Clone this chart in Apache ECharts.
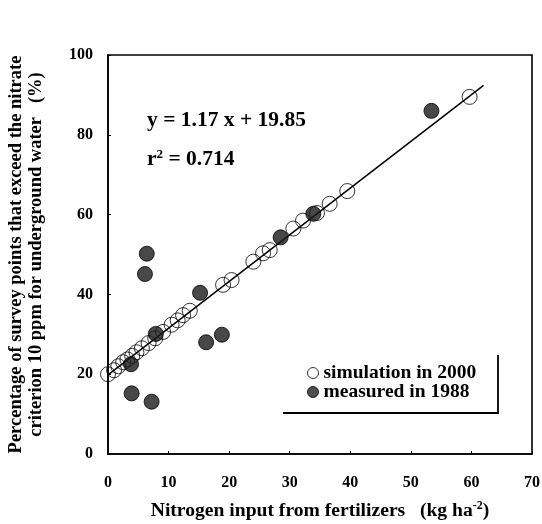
<!DOCTYPE html>
<html>
<head>
<meta charset="utf-8">
<script src="https://cdn.jsdelivr.net/npm/echarts@6/dist/echarts.min.js"></script>
<style>
  html, body { margin: 0; padding: 0; background: #fff; }
  #chart { width: 542px; height: 524px; }
</style>
</head>
<body>
<div id="chart"></div>
<script>
// Nitrogen input (kg ha-2) vs. share of survey points above the 10 ppm nitrate criterion (%)
var simX = [0, 1.0, 1.7, 2.5, 3.2, 4.0, 4.7, 5.6, 6.7, 7.8, 9.1, 10.5, 11.5, 12.4, 13.5, 19.0, 20.4, 24.0, 25.6, 26.7, 30.6, 32.2, 34.5, 36.6, 39.5, 59.7];
var simY = [20, 21.0, 22.0, 23.0, 23.7, 24.6, 25.5, 26.5, 27.8, 29.0, 30.6, 32.4, 33.5, 34.8, 35.9, 42.4, 43.6, 48.2, 50.3, 51.1, 56.5, 58.5, 60.4, 62.7, 65.9, 89.5];

var measX = [53.4, 33.9, 28.5, 15.2, 6.4, 6.1, 7.9, 3.8, 18.8, 16.2, 3.9, 7.2];
var measY = [86.0, 60.2, 54.3, 40.4, 50.2, 45.1, 30.1, 22.5, 29.9, 28.0, 15.2, 13.1];

// Linear fit y = a x + b, drawn over x in [fitStart, fitEnd]
var slope = 1.17;
var intercept = 19.85;
var r2 = 0.714;
var fitStart = 0;
var fitEnd = 62;

var xTicks = [0, 10, 20, 30, 40, 50, 60, 70];
var yTicks = [0, 20, 40, 60, 80, 100];

var serif = '"Liberation Serif", "DejaVu Serif", serif';

function pairs(xs, ys) { return xs.map(function (x, i) { return [x, ys[i]]; }); }
var fitLine = [fitStart, fitEnd].map(function (x) { return [x, slope * x + intercept]; });

var chart = echarts.init(document.getElementById('chart'), null, { renderer: 'canvas' });

var axisText = { color: '#000', fontFamily: serif, fontWeight: 'bold', fontSize: 16 };

chart.setOption({
  animation: false,
  backgroundColor: '#fff',
  grid: {
    left: 108, right: 10, top: 55, bottom: 70,
    containLabel: false, outerBoundsMode: 'none',
    show: true, borderColor: '#000', borderWidth: 1.6, backgroundColor: 'transparent'
  },
  xAxis: {
    type: 'value', min: xTicks[0], max: xTicks[xTicks.length - 1], interval: 10,
    splitLine: { show: false },
    axisLine: { show: true, lineStyle: { color: '#000', width: 1.6 } },
    axisTick: { show: true, inside: true, length: 3, lineStyle: { color: '#000' } },
    axisLabel: Object.assign({ margin: 21 }, axisText),
    name: '{n|Nitrogen input from fertilizers   (kg ha}{s|-2}{n|)}',
    nameLocation: 'middle', nameGap: 46,
    nameTextStyle: {
      rich: {
        n: { fontFamily: serif, fontWeight: 'bold', fontSize: 19.6, color: '#000' },
        s: { fontFamily: serif, fontWeight: 'bold', fontSize: 12, color: '#000', verticalAlign: 'top', padding: [0, 0, 9, 0] }
      }
    }
  },
  yAxis: {
    type: 'value', min: yTicks[0], max: yTicks[yTicks.length - 1], interval: 20,
    splitLine: { show: false },
    axisLine: { show: true, lineStyle: { color: '#000', width: 1.6 } },
    axisTick: { show: true, inside: true, length: 3, lineStyle: { color: '#000' } },
    axisLabel: Object.assign({ margin: 15 }, axisText),
    name: 'Percentage of survey points that exceed the nitrate\ncriterion 10 ppm for underground water   (%)',
    nameLocation: 'middle', nameGap: 62,
    nameTextStyle: { fontFamily: serif, fontWeight: 'bold', fontSize: 18.5, color: '#000', lineHeight: 20 }
  },
  legend: {
    orient: 'vertical', left: 302, top: 358, itemGap: -1,
    itemWidth: 11, itemHeight: 11,
    textStyle: { fontFamily: serif, fontWeight: 'bold', fontSize: 19.5, color: '#000' },
    data: [
      { name: 'simulation in 2000', icon: 'circle', itemStyle: { color: '#fff', borderColor: '#000', borderWidth: 1 } },
      { name: 'measured in 1988', icon: 'circle', itemStyle: { color: '#222', borderColor: '#000', borderWidth: 1 } }
    ]
  },
  graphic: [
    {
      type: 'polyline', silent: true,
      shape: { points: [[283, 413], [498, 413], [498, 355]] },
      style: { stroke: '#000', lineWidth: 1.8, fill: null }
    },
    {
      type: 'text', left: 147, top: 109,
      style: { text: 'y = ' + slope + ' x + ' + intercept.toFixed(2), font: 'bold 21.5px ' + serif, fill: '#000' }
    },
    {
      type: 'text', left: 147, top: 148,
      style: {
        text: '{n|r}{s|2}{n| = ' + r2 + '}',
        rich: {
          n: { font: 'bold 21.5px ' + serif, fill: '#000' },
          s: { font: 'bold 13px ' + serif, fill: '#000', verticalAlign: 'top', padding: [0, 0, 9, 0] }
        }
      }
    }
  ],
  series: [
    {
      name: 'fit', type: 'line', data: fitLine, symbol: 'none', silent: true,
      lineStyle: { color: '#000', width: 1.5 }, z: 1
    },
    {
      name: 'simulation in 2000', type: 'scatter', data: pairs(simX, simY),
      symbol: 'circle', symbolSize: 15,
      itemStyle: { color: 'rgba(255,255,255,0)', borderColor: '#000', borderWidth: 1 }, z: 2
    },
    {
      name: 'measured in 1988', type: 'scatter', data: pairs(measX, measY),
      symbol: 'circle', symbolSize: 15,
      itemStyle: { color: '#1a1a1a', borderColor: '#000', borderWidth: 1 }, z: 3
    }
  ]
});
</script>
</body>
</html>
